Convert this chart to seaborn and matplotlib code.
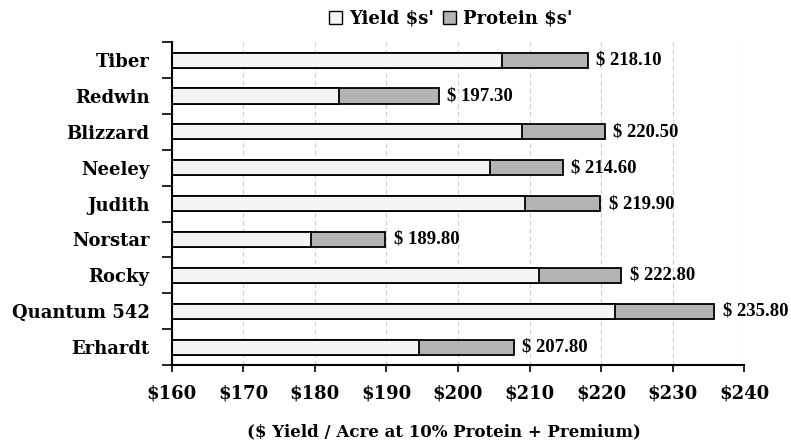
import pandas as pd
import matplotlib.pyplot as plt
import seaborn as sns
from matplotlib.patches import Patch

varieties = ["Tiber", "Redwin", "Blizzard", "Neeley", "Judith",
             "Norstar", "Rocky", "Quantum 542", "Erhardt"]
yield_usd = [206.2, 183.4, 209.0, 204.5, 209.3, 179.5, 211.3, 222.0, 194.5]
total_usd = [218.10, 197.30, 220.50, 214.60, 219.90, 189.80, 222.80, 235.80, 207.80]
x_ticks = [160, 170, 180, 190, 200, 210, 220, 230, 240]

df = pd.DataFrame({"variety": varieties, "yield": yield_usd, "total": total_usd})
df["protein"] = df["total"] - df["yield"]

sns.set_style("white")
plt.rcParams["font.family"] = ["DejaVu Serif"]
plt.rcParams["font.weight"] = "bold"
for k in ["text.color", "axes.labelcolor", "xtick.color", "ytick.color"]:
    plt.rcParams[k] = "black"

fig = plt.figure(figsize=(7.91, 4.44), dpi=100)
ax = fig.add_axes([0.217, 0.178, 0.724, 0.727])

yield_col = "#f4f4f4"
prot_col = "#b4b4b4"

# total bar (protein colour) underneath, yield bar on top
sns.barplot(data=df, y="variety", x="total", orient="h", color=prot_col,
            edgecolor="black", linewidth=1.3, width=0.42, ax=ax, saturation=1)
sns.barplot(data=df, y="variety", x="yield", orient="h", color=yield_col,
            edgecolor="black", linewidth=1.3, width=0.42, ax=ax, saturation=1)

for i, t in enumerate(df["total"]):
    ax.text(t + 1.2, i, f"$ {t:.2f}", va="center", ha="left",
            fontsize=13.5, fontweight="bold", family="Liberation Serif")

ax.set_xlim(160, 240)
ax.set_xticks(x_ticks)
ax.set_xticklabels([f"${v}" for v in x_ticks], fontsize=13, fontweight="bold")
ax.set_yticks(range(len(varieties)))
ax.set_yticklabels(varieties, fontsize=13, fontweight="bold")
ax.set_ylim(len(varieties) - 0.5, -0.5)
ax.set_ylabel("")
ax.set_xlabel("($ Yield / Acre at 10% Protein + Premium)", fontsize=12,
              fontweight="bold")
ax.xaxis.set_label_coords(0.475, -0.18)

# category separator ticks on y axis
ax.set_yticks([i + 0.5 for i in range(-1, len(varieties))], minor=True)
ax.tick_params(axis="y", which="major", length=0, pad=16)
ax.tick_params(axis="y", which="minor", length=7, width=1.2, direction="out", left=True)
ax.tick_params(axis="x", which="major", length=5, width=1.2, direction="out",
               bottom=True, pad=9)

ax.xaxis.grid(True, color="#cccccc", linestyle=(0, (4, 3)), linewidth=0.8)
ax.set_axisbelow(True)
sns.despine(ax=ax, top=True, right=True)
for s in ["left", "bottom"]:
    ax.spines[s].set_linewidth(1.5)
    ax.spines[s].set_color("black")

handles = [Patch(facecolor=yield_col, edgecolor="black", label="Yield $s'"),
           Patch(facecolor=prot_col, edgecolor="black", label="Protein $s'")]
fig.legend(handles=handles, loc="center", bbox_to_anchor=(0.57, 0.958),
           ncol=2, frameon=False, fontsize=13, handlelength=0.7,
           handleheight=0.7, handletextpad=0.4, columnspacing=0.5)

fig.savefig("out.png", dpi=100)
